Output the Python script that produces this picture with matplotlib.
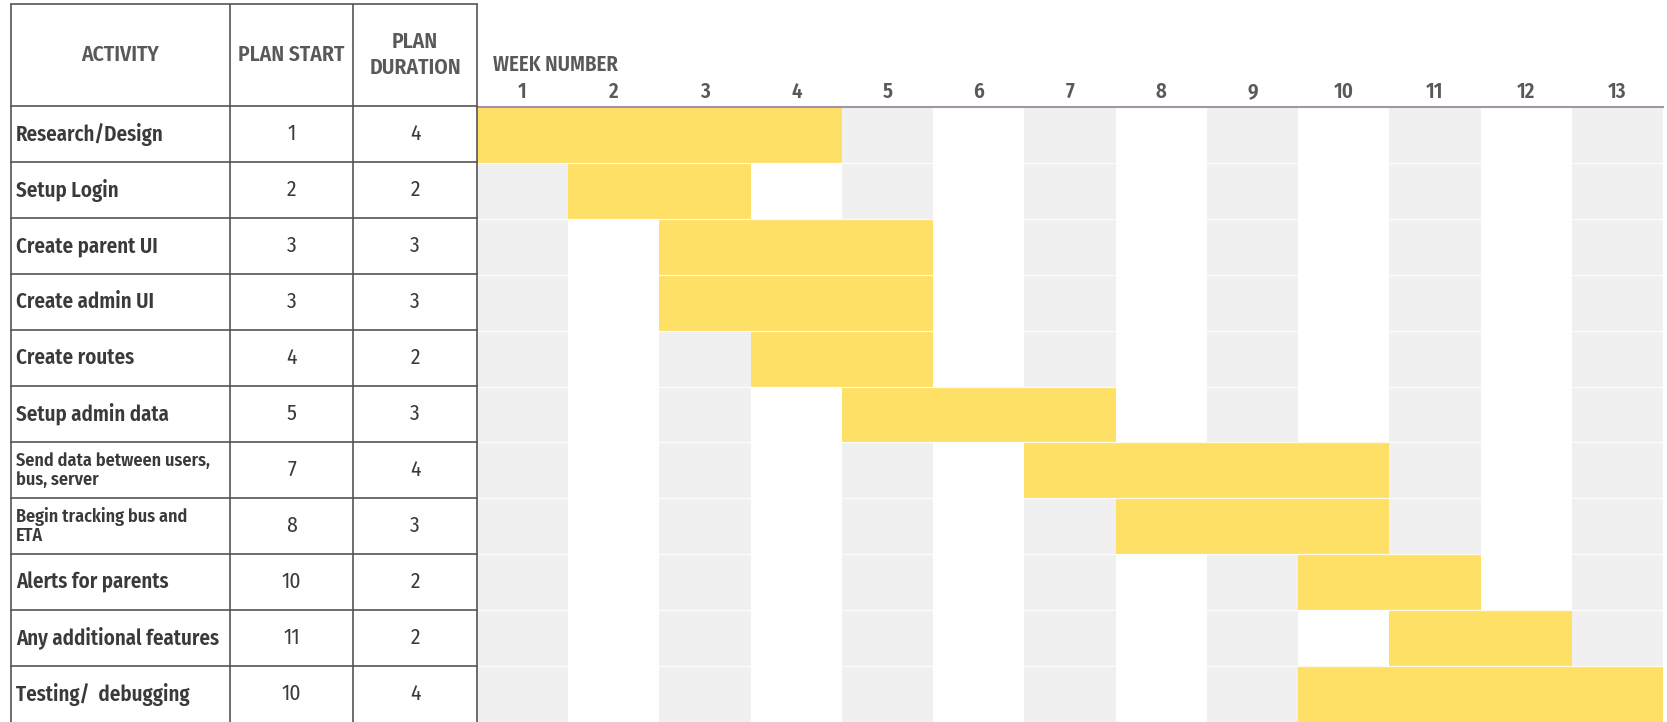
import matplotlib
matplotlib.use('Agg')
import matplotlib.pyplot as plt

# --- data ---
activities = [
    'Research/Design',
    'Setup Login',
    'Create parent UI',
    'Create admin UI',
    'Create routes',
    'Setup admin data',
    'Send data between users,\nbus, server',
    'Begin tracking bus and\nETA',
    'Alerts for parents',
    'Any additional features',
    'Testing/  debugging',
]
plan_start = [1, 2, 3, 3, 4, 5, 7, 8, 10, 11, 10]
plan_duration = [4, 2, 3, 3, 2, 3, 4, 3, 2, 2, 4]
weeks = list(range(1, 14))
headers = ['ACTIVITY', 'PLAN START', 'PLAN\nDURATION']

# --- style ---
FONT = 'Fira Sans Condensed'
YELLOW = '#ffe066'
STRIPE = '#f0f0f0'
LINE = '#555555'
HEAD_COL = '#595959'
TEXT_COL = '#3a3a3a'

W, H = 1667, 722
fig = plt.figure(figsize=(W / 100, H / 100), dpi=100)
fig.patch.set_facecolor('white')

n = len(activities)
row_px = 56
header_px = 102
header_rows = header_px / row_px

# ---------- gantt part ----------
gx0, gx1 = 477, 1663
ax = fig.add_axes([gx0 / W, 0, (gx1 - gx0) / W, (n * row_px - 1) / H])
ax.set_xlim(weeks[0] - 0.5, weeks[-1] + 0.5)
ax.set_ylim(n, 0)
for w in weeks:
    if w % 2 == 1:
        ax.axvspan(w - 0.5, w + 0.5, color=STRIPE, lw=0, zorder=0)
rows = [i + 0.5 for i in range(n)]
ax.barh(rows, plan_duration, left=[s - 0.5 for s in plan_start], height=1.0,
        color=YELLOW, lw=0, zorder=2)
for i in range(1, n):
    ax.axhline(i, color='white', lw=0.9, alpha=0.85, zorder=3)
ax.axhline(0, color='#a495a6', lw=1.5, zorder=4, clip_on=False)

for s in ax.spines.values():
    s.set_visible(False)
ax.set_yticks([])
ax.xaxis.tick_top()
ax.set_xticks(weeks)
ax.set_xticklabels([str(w) for w in weeks], family=FONT, fontweight='semibold',
                   fontsize=15, color=HEAD_COL)
ax.tick_params(axis='x', length=0, pad=3)
ax.text(weeks[0] - 0.33, -0.75, 'WEEK NUMBER', family=FONT, fontweight='semibold',
        fontsize=15, color=HEAD_COL, va='center', ha='left', clip_on=False)

# ---------- table part ----------
col_w = [219, 123, 124]
tx0 = 11
tab = fig.add_axes([tx0 / W, 0, sum(col_w) / W, (n * row_px + header_px) / H])
tab.set_xlim(0, sum(col_w))
tab.set_ylim(n, -header_rows)
tab.axis('off')

edges = [0]
for cw in col_w:
    edges.append(edges[-1] + cw)
for x in edges:
    tab.plot([x, x], [-header_rows, n + 0.2], color=LINE, lw=1.2, clip_on=False,
             solid_capstyle='butt')
tab.plot([0, edges[-1]], [-header_rows, -header_rows], color=LINE, lw=1.2, clip_on=False)
for i in range(n):
    tab.plot([0, edges[-1]], [i, i], color=LINE, lw=1.2, clip_on=False)

centers = [(edges[k] + edges[k + 1]) / 2 for k in range(len(col_w))]
for k, h in enumerate(headers):
    tab.text(centers[k], -header_rows / 2, h, family=FONT, fontweight='semibold',
             fontsize=15.5, color=HEAD_COL, ha='center', va='center', linespacing=1.3)

for i, name in enumerate(activities):
    yc = i + 0.5
    two = '\n' in name
    tab.text(5, yc, name, family=FONT, fontweight='semibold',
             fontsize=13 if two else 15, color=TEXT_COL, ha='left', va='center',
             linespacing=1.1)
    tab.text(centers[1], yc, str(plan_start[i]), family=FONT, fontsize=15.5,
             color=TEXT_COL, ha='center', va='center')
    tab.text(centers[2], yc, str(plan_duration[i]), family=FONT, fontsize=15.5,
             color=TEXT_COL, ha='center', va='center')

fig.savefig('out.png', dpi=100, facecolor='white')
